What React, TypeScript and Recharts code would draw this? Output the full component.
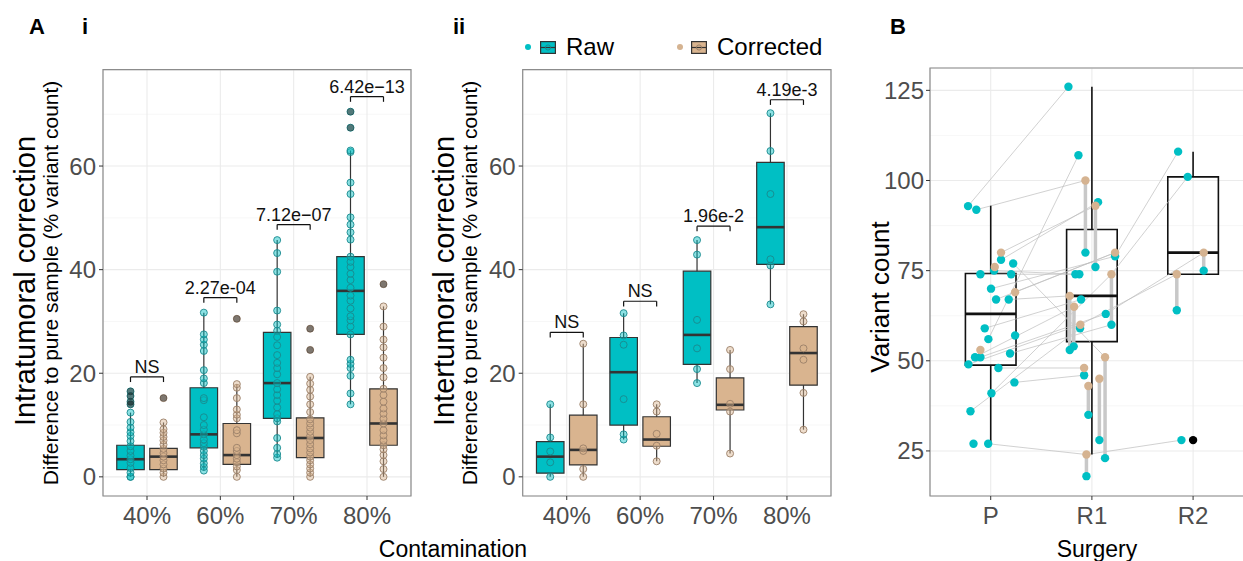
import React from "react";
import {
  ComposedChart,
  Scatter,
  XAxis,
  YAxis,
  CartesianGrid,
  ReferenceLine,
  ReferenceArea,
  ReferenceDot,
} from "recharts";

const TEAL = "#00BFC4";
const TAN = "#D9B48F";
const FONT = '"Liberation Sans", Arial, sans-serif';

const contamination = ["40%", "60%", "70%", "80%"];
const surgeries = ["P", "R1", "R2"];

// box stats per category: [lower whisker, q1, median, q3, upper whisker]
const intraRawBox = [
  [0, 1.4, 3.4, 6.1, 12.4],
  [1.2, 5.6, 8.2, 17.2, 31.7],
  [3.7, 11.3, 18.1, 27.9, 45.7],
  [14.0, 27.5, 35.9, 42.5, 63.0],
];
const intraCorrBox = [
  [0, 1.4, 3.9, 5.5, 10.5],
  [0, 2.4, 4.2, 10.3, 17.9],
  [0, 3.7, 7.5, 11.4, 19.3],
  [0, 6.1, 10.3, 17.0, 32.9],
];
const intraRawPts = [
  [0, 0, 0.8, 1.7, 2.7, 3.4, 4.1, 5.0, 5.9, 6.9, 7.9, 8.6, 9.5, 10.6, 12.4, 14.0, 14.5, 15.6, 16.5],
  [1.2, 1.9, 2.6, 3.5, 4.2, 5.0, 5.8, 6.5, 7.2, 8.2, 9.1, 10.0, 11.5, 14.8, 15.2, 18.1, 19.0, 20.6, 24.3, 25.5, 26.5, 27.5, 31.7],
  [3.7, 4.4, 5.6, 7.5, 10.7, 11.3, 12.1, 13.4, 14.7, 15.8, 16.9, 18.1, 19.8, 21.0, 22.0, 23.5, 25.4, 27.0, 28.2, 29.4, 32.1, 39.6, 43.2, 45.7],
  [14.0, 16.1, 19.5, 21.0, 21.8, 22.6, 27.5, 29.0, 30.2, 31.0, 32.5, 34.0, 35.0, 36.5, 38.0, 39.2, 40.5, 41.5, 42.5, 45.8, 47.2, 48.7, 50.1, 54.6, 56.8, 62.7, 63.0, 67.4, 70.5],
];
const intraCorrPts = [
  [0, 0.8, 1.6, 2.4, 3.2, 3.9, 4.6, 5.4, 6.2, 7.0, 7.7, 8.5, 9.2, 10.5, 15.2],
  [0, 1.3, 2.0, 2.8, 3.5, 4.2, 5.0, 5.6, 8.4, 9.0, 11.3, 12.0, 13.0, 15.2, 17.2, 17.9, 30.5],
  [0, 0.8, 1.6, 2.4, 3.2, 3.9, 4.7, 5.5, 6.3, 7.1, 7.9, 8.7, 9.5, 10.3, 11.1, 12.5, 14.0, 15.5, 16.8, 18.0, 19.3, 24.5, 28.6],
  [0, 1.5, 3.0, 4.2, 5.3, 6.1, 7.0, 8.0, 9.0, 10.3, 11.2, 12.2, 13.2, 14.5, 15.8, 17.0, 19.2, 21.0, 23.0, 25.0, 26.5, 29.0, 32.9, 37.2],
];
const intraRawOut = [[14.0, 14.5, 15.6, 16.5], [], [], [67.4, 70.5]];
const intraCorrOut = [[15.2], [30.5], [24.5, 28.6], [37.2]];
const intraSig = ["NS", "2.27e-04", "7.12e\u221207", "6.42e\u221213"];
const intraSigY = [19.3, 34.6, 48.7, 73.4];

const interRawBox = [
  [0, 0.7, 3.9, 6.8, 14.0],
  [7.2, 10.0, 20.2, 26.9, 31.6],
  [18.1, 21.7, 27.4, 39.7, 45.7],
  [33.3, 41.0, 48.2, 60.7, 70.2],
];
const interCorrBox = [
  [0, 2.3, 5.2, 11.9, 25.7],
  [3.0, 5.9, 7.2, 11.6, 14.0],
  [4.5, 12.9, 13.9, 19.1, 24.5],
  [9.1, 17.7, 23.9, 29.0, 31.4],
];
const interRawPts = [
  [0, 2.8, 4.9, 7.6, 14.0],
  [7.2, 8.2, 15.0, 25.5, 27.3, 31.6],
  [18.1, 20.8, 24.8, 30.3, 42.9, 45.7],
  [33.3, 40.8, 42.0, 54.6, 62.9, 70.2],
];
const interCorrPts = [
  [0, 1.5, 5.0, 5.5, 14.0, 25.7],
  [3.0, 6.0, 8.3, 12.6, 14.0],
  [4.5, 12.6, 14.1, 20.8, 24.5],
  [9.1, 16.2, 22.6, 24.8, 30.0, 31.4],
];
const interSig = ["NS", "NS", "1.96e-2", "4.19e-3"];
const interSigY = [27.9, 33.9, 48.4, 72.8];

// panel B
const surgeryBox = [
  [27, 48.8, 63, 74.2, 93],
  [24, 55.3, 68, 86.4, 126],
  [74, 74, 80, 101, 108],
];
// [jittered x, variant count]
const rawCounts = [
  [0.776, 92.9], [0.858, 91.9], [0.898, 74], [1.033, 75], [1.202, 74], [1.222, 77],
  [1.102, 78], [1.003, 70], [1.053, 67], [1.178, 67], [0.941, 59], [0.977, 56],
  [1.241, 57], [0.845, 51], [0.898, 51], [1.191, 52], [0.78, 49], [1.076, 48],
  [1.234, 44], [1.007, 41], [0.8, 36], [0.83, 27], [0.975, 27],
  [1.768, 126], [1.867, 107], [2.061, 94], [1.936, 80], [2.229, 79], [2.035, 76],
  [1.837, 74], [1.876, 74], [1.893, 67], [2.137, 63], [2.193, 60], [1.883, 59],
  [1.82, 54], [1.781, 53], [1.923, 46], [1.965, 35], [2.074, 28], [2.13, 23], [1.946, 18],
  [2.852, 108], [2.947, 101], [3.105, 75], [2.839, 64], [2.885, 28],
];
const correctedCounts = [
  [1.102, 80], [1.04, 76], [1.241, 69], [0.898, 53],
  [1.936, 100], [2.035, 93], [2.229, 80], [2.193, 74], [1.781, 68], [1.824, 65],
  [1.886, 60], [2.13, 51], [1.923, 48], [2.074, 45], [1.965, 43], [1.946, 24],
  [3.105, 80], [2.839, 74],
];
const surgeryOutliers = [[3, 28]];
// raw <-> corrected of the same sample: [corrected index, raw index]
const correctionPairs = [
  [0, 6], [1, 3], [3, 14], [4, 26], [5, 28], [6, 27], [7, 33], [8, 36], [9, 35],
  [10, 34], [11, 40], [12, 37], [13, 39], [14, 38], [15, 41], [16, 44], [17, 45],
];
// same patient across surgeries ("r" raw, "c" corrected)
const patientLinks = [
  ["r0", "r23"], ["r1", "c4"], ["c0", "c5"], ["r6", "r25"], ["r3", "r29"], ["r2", "r30"],
  ["r5", "c11"], ["r7", "r27"], ["r8", "c6"], ["r11", "r24"], ["r9", "c8"], ["r10", "r31"],
  ["r13", "c9"], ["r14", "r32"], ["r15", "r33"], ["r16", "c10"], ["r17", "c12"],
  ["r18", "r37"], ["r19", "c7"], ["r20", "r34"], ["r22", "c15"], ["c2", "c6"],
  ["r27", "r42"], ["c7", "r43"], ["r32", "c16"], ["c10", "c17"], ["c15", "r46"],
];

const OFF = 0.225;
const BOXW = 0.375;

function boxElements(key: string, g: number, w: number, s: number[], fill: string, stroke: string, sw: number, medW: number) {
  return [
    <ReferenceLine key={key + "wu"} segment={[{ x: g, y: s[3] }, { x: g, y: s[4] }]} stroke={stroke} strokeWidth={sw} ifOverflow="visible" />,
    <ReferenceLine key={key + "wl"} segment={[{ x: g, y: s[0] }, { x: g, y: s[1] }]} stroke={stroke} strokeWidth={sw} ifOverflow="visible" />,
    <ReferenceArea key={key + "b"} x1={g - w / 2} x2={g + w / 2} y1={s[1]} y2={s[3]} fill={fill} fillOpacity={1} stroke={stroke} strokeWidth={sw} ifOverflow="visible" />,
    <ReferenceLine key={key + "m"} segment={[{ x: g - w / 2, y: s[2] }, { x: g + w / 2, y: s[2] }]} stroke={stroke} strokeWidth={medW} ifOverflow="visible" />,
  ];
}

const ring = (fill: string, stroke: string) => (p: any) => (
  <circle cx={p.cx} cy={p.cy} r={3.5} fill={fill} fillOpacity={0.45} stroke={stroke} strokeOpacity={0.9} strokeWidth={1} />
);
const solid = (fill: string, r: number, op = 1) => (p: any) => (
  <circle cx={p.cx} cy={p.cy} r={r} fill={fill} fillOpacity={op} stroke="none" />
);

const tickStyle = { fill: "#4D4D4D", fontSize: 24, fontFamily: FONT };

type PanelProps = {
  left: number;
  width: number;
  axisW: number;
  rawBox: number[][];
  corrBox: number[][];
  rawPts: number[][];
  corrPts: number[][];
  rawOut: number[][];
  corrOut: number[][];
  sig: string[];
  sigY: number[];
};

function ContaminationPanel(p: PanelProps) {
  const dom: [number, number] = [-3.7, 78.6];
  const rawData = p.rawPts.flatMap((vs, i) => vs.map((v) => ({ x: i + 1 - OFF, y: v })));
  const corrData = p.corrPts.flatMap((vs, i) => vs.map((v) => ({ x: i + 1 + OFF, y: v })));
  const outData = [
    ...p.rawOut.flatMap((vs, i) => vs.map((v) => ({ x: i + 1 - OFF, y: v }))),
    ...p.corrOut.flatMap((vs, i) => vs.map((v) => ({ x: i + 1 + OFF, y: v }))),
  ];
  return (
    <div style={{ position: "absolute", left: p.left, top: 0 }}>
      <ComposedChart width={p.width} height={561} margin={{ top: 69.7, right: 29, bottom: 25, left: 0 }}>
        <YAxis yAxisId="minor" hide type="number" domain={dom} ticks={[10, 30, 50, 70]} allowDataOverflow />
        <CartesianGrid yAxisId="minor" vertical={false} stroke="#F5F5F5" strokeWidth={0.8} />
        <CartesianGrid stroke="#EBEBEB" strokeWidth={1.1} />
        <XAxis
          type="number"
          dataKey="x"
          domain={[0.4, 4.6]}
          ticks={[1, 2, 3, 4]}
          tickFormatter={(v: number) => contamination[v - 1]}
          allowDataOverflow
          height={40}
          tick={tickStyle}
          tickSize={4}
          tickMargin={7}
          tickLine={{ stroke: "#333" }}
          axisLine={false}
        />
        <YAxis
          type="number"
          dataKey="y"
          domain={dom}
          ticks={[0, 20, 40, 60]}
          allowDataOverflow
          width={p.axisW}
          tick={tickStyle}
          tickSize={4}
          tickMargin={3}
          tickLine={{ stroke: "#333" }}
          axisLine={false}
        />
        <ReferenceArea x1={0.4} x2={4.6} y1={dom[0]} y2={dom[1]} fill="none" stroke="#8C8C8C" strokeWidth={1.2} ifOverflow="visible" />
        {p.rawBox.flatMap((s, i) => boxElements("r" + i, i + 1 - OFF, BOXW, s, TEAL, "#333", 1.2, 2.6))}
        {p.corrBox.flatMap((s, i) => boxElements("c" + i, i + 1 + OFF, BOXW, s, TAN, "#333", 1.2, 2.6))}
        {p.sig.flatMap((s, i) => [
          <ReferenceLine key={"sh" + i} segment={[{ x: i + 1 - OFF, y: p.sigY[i] }, { x: i + 1 + OFF, y: p.sigY[i] }]} stroke="#111" strokeWidth={1.2} ifOverflow="visible" />,
          <ReferenceLine key={"sl" + i} segment={[{ x: i + 1 - OFF, y: p.sigY[i] - 1 }, { x: i + 1 - OFF, y: p.sigY[i] }]} stroke="#111" strokeWidth={1.2} ifOverflow="visible" />,
          <ReferenceLine key={"sr" + i} segment={[{ x: i + 1 + OFF, y: p.sigY[i] - 1 }, { x: i + 1 + OFF, y: p.sigY[i] }]} stroke="#111" strokeWidth={1.2} ifOverflow="visible" />,
          <ReferenceDot
            key={"st" + i}
            x={i + 1}
            y={p.sigY[i]}
            r={0}
            fill="none"
            stroke="none"
            ifOverflow="visible"
            label={{ value: s, position: "top", offset: 4, fill: "#111", fontSize: 18, fontFamily: FONT }}
          />,
        ])}
        <Scatter data={rawData} shape={ring(TEAL, "#1A8A8E")} isAnimationActive={false} />
        <Scatter data={corrData} shape={ring(TAN, "#9A8068")} isAnimationActive={false} />
        <Scatter data={outData} shape={solid("#222", 3.5, 0.55)} isAnimationActive={false} />
      </ComposedChart>
    </div>
  );
}

function SurgeryPanel() {
  const dom: [number, number] = [12.5, 131.2];
  const rawData = rawCounts.map(([x, y]) => ({ x, y }));
  const corrData = correctedCounts.map(([x, y]) => ({ x, y }));
  const outData = surgeryOutliers.map(([x, y]) => ({ x, y }));
  const pick = (id: string) => (id[0] === "r" ? rawCounts : correctedCounts)[Number(id.slice(1))];
  return (
    <div style={{ position: "absolute", left: 860, top: 0 }}>
      <ComposedChart width={400} height={561} margin={{ top: 68, right: 6.2, bottom: 25, left: 0 }}>
        <YAxis yAxisId="minor" hide type="number" domain={dom} ticks={[37.5, 62.5, 87.5, 112.5]} allowDataOverflow />
        <CartesianGrid yAxisId="minor" vertical={false} stroke="#F5F5F5" strokeWidth={0.8} />
        <CartesianGrid stroke="#EBEBEB" strokeWidth={1.1} />
        <XAxis
          type="number"
          dataKey="x"
          domain={[0.4, 3.6]}
          ticks={[1, 2, 3]}
          tickFormatter={(v: number) => surgeries[v - 1]}
          allowDataOverflow
          height={40}
          tick={tickStyle}
          tickSize={4}
          tickMargin={7}
          tickLine={{ stroke: "#333" }}
          axisLine={false}
        />
        <YAxis
          type="number"
          dataKey="y"
          domain={dom}
          ticks={[25, 50, 75, 100, 125]}
          allowDataOverflow
          width={70}
          tick={tickStyle}
          tickSize={4}
          tickMargin={2}
          tickLine={{ stroke: "#333" }}
          axisLine={false}
        />
        <ReferenceArea x1={0.4} x2={3.6} y1={dom[0]} y2={dom[1]} fill="none" stroke="#8C8C8C" strokeWidth={1.2} ifOverflow="visible" />
        {patientLinks.map(([a, b], i) => {
          const pa = pick(a);
          const pb = pick(b);
          return (
            <ReferenceLine key={"l" + i} segment={[{ x: pa[0], y: pa[1] }, { x: pb[0], y: pb[1] }]} stroke="#BDBDBD" strokeOpacity={0.7} strokeWidth={1} ifOverflow="visible" />
          );
        })}
        {correctionPairs.map(([c, r], i) => (
          <ReferenceLine
            key={"v" + i}
            segment={[{ x: correctedCounts[c][0], y: correctedCounts[c][1] }, { x: rawCounts[r][0], y: rawCounts[r][1] }]}
            stroke="#C8C8C8"
            strokeWidth={3.5}
            ifOverflow="visible"
          />
        ))}
        {surgeryBox.flatMap((s, i) => boxElements("b" + i, i + 1, 0.5, s, "none", "#111", 1.6, 2.8))}
        <Scatter data={rawData} shape={solid(TEAL, 4.2)} isAnimationActive={false} />
        <Scatter data={corrData} shape={solid("#D5B391", 4.2)} isAnimationActive={false} />
        <Scatter data={outData} shape={solid("#000", 4.2)} isAnimationActive={false} />
      </ComposedChart>
    </div>
  );
}

function Txt({ x, y, size, children, rotate, weight, color }: any) {
  return (
    <div
      style={{
        position: "absolute",
        left: x,
        top: y,
        transform: `translate(-50%, -50%)${rotate ? " rotate(-90deg)" : ""}`,
        fontSize: size,
        fontWeight: weight || "normal",
        color: color || "#000",
        whiteSpace: "nowrap",
        lineHeight: 1,
      }}
    >
      {children}
    </div>
  );
}

function LegendKey({ fill, stroke }: { fill: string; stroke: string }) {
  return (
    <svg width={16} height={13} style={{ display: "block" }}>
      <rect x={0.6} y={0.6} width={14.8} height={11.8} fill={fill} stroke="#333" strokeWidth={1.2} />
      <line x1={0.6} x2={15.4} y1={6.5} y2={6.5} stroke="#333" strokeWidth={1.2} />
      <circle cx={8} cy={6.5} r={2.6} fill="none" stroke={stroke} strokeWidth={1} />
    </svg>
  );
}

export default function App() {
  return (
    <div
      style={{
        position: "absolute",
        left: 0,
        top: 0,
        width: 1243,
        height: 561,
        overflow: "hidden",
        background: "#fff",
        fontFamily: FONT,
      }}
    >
      <ContaminationPanel
        left={0}
        width={440}
        axisW={103}
        rawBox={intraRawBox}
        corrBox={intraCorrBox}
        rawPts={intraRawPts}
        corrPts={intraCorrPts}
        rawOut={intraRawOut}
        corrOut={intraCorrOut}
        sig={intraSig}
        sigY={intraSigY}
      />
      <ContaminationPanel
        left={430}
        width={430}
        axisW={92.7}
        rawBox={interRawBox}
        corrBox={interCorrBox}
        rawPts={interRawPts}
        corrPts={interCorrPts}
        rawOut={[[], [], [], []]}
        corrOut={[[], [], [], []]}
        sig={interSig}
        sigY={interSigY}
      />
      <SurgeryPanel />

      <Txt x={37} y={27} size={22} weight="bold">A</Txt>
      <Txt x={85} y={27} size={22} weight="bold">i</Txt>
      <Txt x={459} y={27} size={22} weight="bold">ii</Txt>
      <Txt x={898} y={27} size={22} weight="bold">B</Txt>

      <Txt x={25} y={281} size={29} rotate>Intratumoral correction</Txt>
      <Txt x={50} y={283} size={21} rotate>Difference to pure sample (% variant count)</Txt>
      <Txt x={444} y={281} size={29} rotate>Intertumoral correction</Txt>
      <Txt x={469} y={283} size={21} rotate>Difference to pure sample (% variant count)</Txt>
      <Txt x={880} y={297} size={26} rotate>Variant count</Txt>

      <Txt x={453} y={549} size={23}>Contamination</Txt>
      <Txt x={1097} y={549} size={23}>Surgery</Txt>

      <div style={{ position: "absolute", left: 524, top: 33, display: "flex", alignItems: "center", fontSize: 24 }}>
        <svg width={8} height={8} style={{ marginRight: 8 }}>
          <circle cx={4} cy={4} r={3} fill={TEAL} />
        </svg>
        <LegendKey fill={TEAL} stroke="#1A8A8E" />
        <span style={{ marginLeft: 10 }}>Raw</span>
      </div>
      <div style={{ position: "absolute", left: 676, top: 33, display: "flex", alignItems: "center", fontSize: 24 }}>
        <svg width={8} height={8} style={{ marginRight: 7 }}>
          <circle cx={4} cy={4} r={3} fill="#D5B391" />
        </svg>
        <LegendKey fill={TAN} stroke="#9A8068" />
        <span style={{ marginLeft: 10 }}>Corrected</span>
      </div>
    </div>
  );
}
